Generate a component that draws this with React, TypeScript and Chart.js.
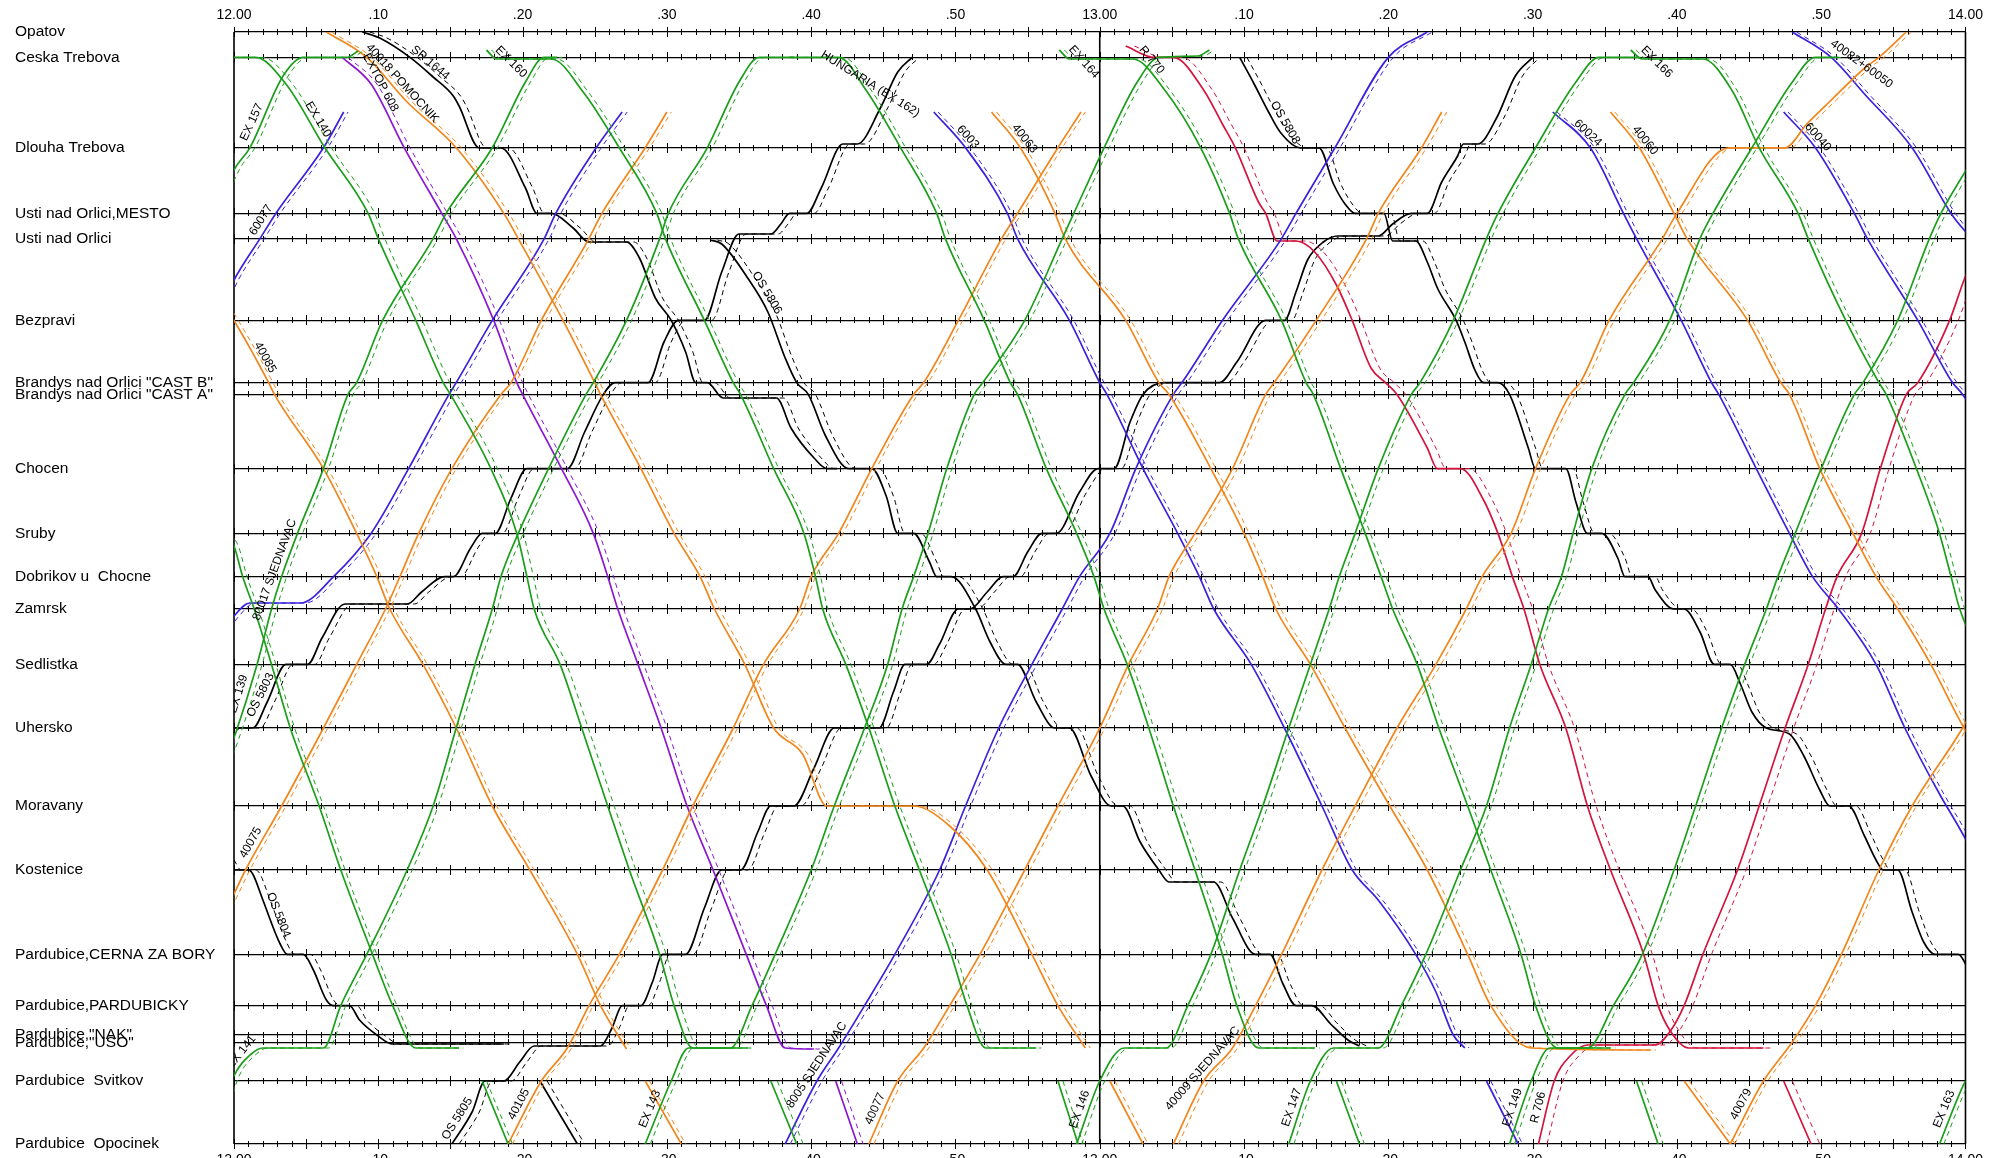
import React, { useEffect, useRef } from "react";
import { Chart, registerables } from "chart.js";

Chart.register(...registerables);

type Pt = [number, string | number] | null;

// ---------- stations (km from Opatov) ----------
const stationCodes = ["OP","CT","DT","UM","UO","BZ","BB","BA","CH","SR","DO","ZA","SE","UH","MO","KO","CZ","PA","NA","US","SV","OO"];
const stationNames = [
  "Opatov","Ceska Trebova","Dlouha Trebova","Usti nad Orlici,MESTO","Usti nad Orlici","Bezpravi",
  'Brandys nad Orlici "CAST B"','Brandys nad Orlici "CAST A"',"Chocen","Sruby","Dobrikov u  Chocne","Zamrsk",
  "Sedlistka","Uhersko","Moravany","Kostenice","Pardubice,CERNA ZA BORY","Pardubice,PARDUBICKY",
  'Pardubice,"NAK"','Pardubice,"USO"',"Pardubice  Svitkov","Pardubice  Opocinek"
];
const stationKm = [0,1.27,5.79,9.07,10.33,14.42,17.53,18.12,21.83,25.07,27.23,28.85,31.62,34.8,38.7,41.9,46.12,48.68,50.15,50.52,52.45,55.6];

// ---------- time axis (minutes after 12.00) ----------
const timeTicks = [0,10,20,30,40,50,60,70,80,90,100,110,120];
const timeTickLabels = ["12.00",".10",".20",".30",".40",".50","13.00",".10",".20",".30",".40",".50","14.00"];

const GREEN = "#1c9e1c";
const ORANGE = "#f0861c";
const BLUE = "#3b22dc";
const PURPLE = "#8a18d0";
const RED = "#d3143e";
const BLACK = "#000000";

// ---------- trains: [minute, station code | km] ----------
const EX157: Pt[] = [[-1.5,9.6],[0,6.9],[1.1,"DT"],[3.4,2.2],[4.8,"CT"],[7.8,"CT"],[8.6,0.95]];
const EX140: Pt[] = [[-0.5,"CT"],[1.5,"CT"],[3.6,2.6],[6.3,"DT"],[9.3,"UM"],[10,"UO"],[12.6,"BZ"],[14.5,"BB"],[15,"BA"],[17.8,"CH"],[19.6,"SR"],[20.3,"DO"],[20.8,"ZA"],[22.6,"SE"],[24.1,"UH"],[25.9,"MO"],[27.4,"KO"],[29.5,"CZ"],[30.5,"PA"],[31.8,50.8],[35.6,50.8],null,[37.2,"SV"],[39,"OO"]];
const EX160: Pt[] = [[17.5,0.9],[18.2,1.35],[22,1.35],[24.2,3.0],[26.7,"DT"],[29.3,"UM"],[29.9,"UO"],[32.6,"BZ"],[34.6,"BB"],[35.1,"BA"],[37.4,"CH"],[39.5,"SR"],[40.3,"DO"],[40.8,"ZA"],[42.4,"SE"],[44,"UH"],[45.8,"MO"],[47.5,"KO"],[49.7,"CZ"],[50.8,"PA"],[52.1,50.8],[55.6,50.8],null,[57.1,"SV"],[58.5,"OO"]];
const HUNG: Pt[] = [[38.5,"CT"],[41.9,"CT"],[43.8,2.9],[46.2,"DT"],[48.7,"UM"],[49.3,"UO"],[52,"BZ"],[53.8,"BB"],[54.3,"BA"],[56.3,"CH"],[58.4,"SR"],[59.6,"DO"],[60.3,"ZA"],[61.9,"SE"],[63.4,"UH"],[65.1,"MO"],[66.6,"KO"],[68.5,"CZ"],[69.5,"PA"],[71,50.8],[74.9,50.8],null,[76.4,"SV"],[78,"OO"]];
const EX164: Pt[] = [[57.2,0.9],[57.9,1.35],[62.3,1.35],[64.5,2.9],[67,"DT"],[69,"UM"],[69.6,"UO"],[72.6,"BZ"],[74.3,"BB"],[74.8,"BA"],[76.7,"CH"],[78.4,"SR"],[79.5,"DO"],[80.3,"ZA"],[82,"SE"],[83.5,"UH"],[85.5,"MO"],[87.1,"KO"],[89.2,"CZ"],[90.2,"PA"],[91.7,50.8],[95.4,50.8],null,[97.2,"SV"],[98.7,"OO"]];
const EX166: Pt[] = [[96.8,0.9],[97.6,1.35],[101.8,1.35],[103.8,2.9],[105.7,"DT"],[108.4,"UM"],[109.1,"UO"],[111.7,"BZ"],[114,"BB"],[114.5,"BA"],[116.6,"CH"],[118.2,"SR"],[119,"DO"],[119.6,"ZA"],[121.3,"SE"]];
const EXD2: Pt[] = [[-0.6,"SR"],[0,25.7],[0.6,"DO"],[1.4,"ZA"],[2.6,"SE"],[3.9,"UH"],[5.9,"MO"],[7.4,"KO"],[9.6,"CZ"],[11,"PA"],[12.6,50.8],[15.6,50.8],null,[17.2,"SV"],[19,"OO"]];
const EX139: Pt[] = [[-1.8,"MO"],[0,35.3],[1.6,"SE"],[2.6,"ZA"],[3.3,"DO"],[4.4,"SR"],[6.2,"CH"],[7.9,"BA"],[8.5,"BB"],[10.3,"BZ"],[13.8,"UO"],[14.7,"UM"],[17.9,"DT"],[20.2,2.5],[21.5,"CT"],[22.4,"CT"]];
const EX141: Pt[] = [[-0.6,53.5],[0,52.2],[1.2,51.1],[2,50.8],[6.2,50.8],[7.4,"PA"],[9.2,"CZ"],[12,"KO"],[13.8,"MO"],[15.4,"UH"],[16.7,"SE"],[17.9,"ZA"],[18.5,"DO"],[19.7,"SR"],[21.8,"CH"],[24.4,"BA"],[24.9,"BB"],[27.2,"BZ"],[29.5,"UO"],[30.1,"UM"],[32.8,"DT"],[35,2.5],[36.4,"CT"],[38.8,"CT"]];
const EX143: Pt[] = [[28.5,"OO"],[30.3,"SV"],[31.5,50.8],[34.4,50.8],[35.9,"PA"],[37.5,"CZ"],[40,"KO"],[41.6,"MO"],[43.7,"UH"],[45.3,"SE"],[46.3,"ZA"],[47.1,"DO"],[48.1,"SR"],[49.4,"CH"],[51.3,"BA"],[51.9,"BB"],[54.8,"BZ"],[57.4,"UO"],[58.2,"UM"],[60.3,"DT"],[62.6,2.5],[64.1,"CT"],[66.8,1.2],[67.6,0.9]];
const EX146: Pt[] = [[58.4,"OO"],[60,"SV"],[61.7,50.8],[64.6,50.8],[66.1,"PA"],[67.7,"CZ"],[69.7,"KO"],[71.3,"MO"],[73.1,"UH"],[74.6,"SE"],[75.9,"ZA"],[76.6,"DO"],[77.7,"SR"],[79.3,"CH"],[81.6,"BA"],[82.2,"BB"],[84.5,"BZ"],[86.8,"UO"],[87.6,"UM"],[90.2,"DT"],[93,2.5],[94.6,"CT"],[97.4,"CT"]];
const EX147: Pt[] = [[73.1,"OO"],[74.6,"SV"],[76.2,50.8],[79.3,50.8],[80.9,"PA"],[82.6,"CZ"],[85,"KO"],[86.8,"MO"],[88.4,"UH"],[89.9,"SE"],[91.1,"ZA"],[92,"DO"],[92.8,"SR"],[94.1,"CH"],[96.4,"BA"],[97,"BB"],[99.5,"BZ"],[101.6,"UO"],[102.5,"UM"],[105.2,"DT"],[108,2.5],[109.6,"CT"],[111.2,"CT"]];
const EX149: Pt[] = [[88.4,"OO"],[89.9,"SV"],[91.2,50.8],[93.8,50.8],[95.6,"PA"],[97.6,"CZ"],[99.8,"KO"],[101.3,"MO"],[103.1,"UH"],[104.7,"SE"],[106.2,"ZA"],[107,"DO"],[108.2,"SR"],[110,"CH"],[112.3,"BA"],[112.9,"BB"],[115.3,"BZ"],[117.5,"UO"],[118.3,"UM"],[121,"DT"]];
const EX163: Pt[] = [[118.2,"OO"],[120,"SV"],[121,51.4]];

const O40018: Pt[] = [[6.4,"OP"],[9.2,"CT"],[12,3.5],[15.4,"DT"],[18.7,"UM"],[19.7,"UO"],[22.8,"BZ"],[25,"BB"],[25.4,"BA"],[28.2,"CH"],[30.5,"SR"],[32.3,"DO"],[33.3,"ZA"],[35.4,"SE"],[37.4,"UH"],[39.4,36.1],[41.1,"MO"],[47.1,"MO"],[49.6,39.7],[52.2,"KO"],[55.3,"CZ"],[57.1,"PA"],[59,50.8],null,[60.7,"SV"],[63,"OO"]];
const O40085: Pt[] = [[-1,13.3],[0,"BZ"],[2.4,"BB"],[2.8,"BA"],[6.2,"CH"],[8.5,"SR"],[9.9,"DO"],[10.8,"ZA"],[13.1,"SE"],[15.4,"UH"],[17.9,"MO"],[20.5,"KO"],[23.8,"CZ"],[25.4,"PA"],[27.2,50.85],null,[28.5,"SV"],[31,"OO"]];
const O40075: Pt[] = [[-1,44.6],[0,43.1],[0.8,"KO"],[3.3,"MO"],[6.2,"UH"],[8.5,"SE"],[10.5,"ZA"],[11.5,"DO"],[12.8,"SR"],[15.1,"CH"],[18.5,"BA"],[19.2,"BB"],[21.3,"BZ"],[24.6,"UO"],[25.5,"UM"],[28.5,"DT"],[30,4.0]];
const O40105: Pt[] = [[19,"OO"],[21.3,"SV"],[23.1,50.8],[24.6,"PA"],[26.7,"CZ"],[29.7,"KO"],[31.8,"MO"],[34.6,"UH"],[36.7,"SE"],[39.2,"ZA"],[40,"DO"],[41.9,"SR"],[44.2,"CH"],[47.1,"BA"],[47.8,"BB"],[50.2,"BZ"],[53.2,"UO"],[54.3,"UM"],[57.1,"DT"],[58.7,4.0]];
const O40077: Pt[] = [[44,"OO"],[46,"SV"],[47.8,50.8],[49.6,"PA"],[51.7,"CZ"],[54.8,"KO"],[57.1,"MO"],[60,"UH"],[62,"SE"],[64,"ZA"],[64.8,"DO"],[66.6,"SR"],[69.2,"CH"],[71.5,"BA"],[72.1,"BB"],[75,"BZ"],[78.5,"UO"],[79.3,"UM"],[82.3,"DT"],[83.7,4.0]];
const O40063: Pt[] = [[52.5,4.0],[54.5,"DT"],[56.9,"UM"],[57.6,"UO"],[61.8,"BZ"],[64.1,"BB"],[64.8,"BA"],[67.7,"CH"],[70,"SR"],[71.3,"DO"],[72.2,"ZA"],[74.6,"SE"],[77,"UH"],[80.1,"MO"],[82.7,"KO"],[85.5,"CZ"],[87.1,"PA"],[89.9,50.8],[98.2,50.9],null,[100.5,"SV"],[103.7,"OO"]];
const O40009: Pt[] = [[65.1,"OO"],[67.2,"SV"],[69.2,50.8],[70.8,"PA"],[72.6,"CZ"],[75.4,"KO"],[77.7,"MO"],[80.6,"UH"],[83.3,"SE"],[85.4,"ZA"],[86.5,"DO"],[88.5,"SR"],[90.2,"CH"],[92.6,"BA"],[93.3,"BB"],[95.3,"BZ"],[99,"UO"],[100,"UM"],[103.6,"DT"],[107.5,"DT"],[109,4.6],[110.7,3.4],[113.1,1.75],[114,"CT"],[115.9,"OP"]];
const O40079: Pt[] = [[103.7,"OO"],[106,"SV"],[108,50.5],[109.6,"PA"],[111.4,"CZ"],[114,"KO"],[116.3,"MO"],[119.8,"UH"],[121,33.2]];
const O40060: Pt[] = [[95.4,4.0],[97.4,"DT"],[99.8,"UM"],[100.7,"UO"],[104.9,"BZ"],[107.2,"BB"],[107.8,"BA"],[109.9,"CH"],[112.2,"SR"],[113.8,"DO"],[115.3,"ZA"],[117.6,"SE"],[119.9,"UH"],[121,36]];

const B60077: Pt[] = [[-1,14],[0,12.4],[1.8,"UO"],[2.9,"UM"],[6.2,"DT"],[7.6,4.0]];
const B60017: Pt[] = [[-1,30.2],[0,29.2],[1.1,28.55],[4.6,28.55],[6.9,"DO"],[9.5,"SR"],[12.1,"CH"],[14.9,"BA"],[15.4,"BB"],[17.9,"BZ"],[21.5,"UO"],[22.3,"UM"],[25.1,"DT"],[26.9,4.0]];
const B6003: Pt[] = [[48.5,4.0],[50.7,"DT"],[53.6,"UM"],[54.3,"UO"],[57.9,"BZ"],[60,"BB"],[60.5,"BA"],[63,"CH"],[65.4,"SR"],[66.9,"DO"],[67.9,"ZA"],[70.5,"SE"],[72.8,"UH"],[75.4,"MO"],[77.5,"KO"],[79.3,43.4],[81.9,"CZ"],[83.3,48],[84.5,"NA"],[85.3,50.8],null,[86.8,"SV"],[89,"OO"]];
const B8005: Pt[] = [[38.2,"OO"],[40.4,"SV"],[41.9,50.8],[43.7,"PA"],[45.8,"CZ"],[48.9,"KO"],[50.7,"MO"],[53,"UH"],[55.3,"SE"],[57.4,"ZA"],[58.6,"DO"],[60.7,"SR"],[62.5,"CH"],[65.1,"BA"],[65.7,"BB"],[68.5,"BZ"],[72.6,"UO"],[73.6,"UM"],[76.3,"DT"],[80,"CT"],[82.7,"OP"]];
const B60024: Pt[] = [[91.4,4.0],[94,"DT"],[96.3,"UM"],[97.2,"UO"],[100.3,"BZ"],[102.4,"BB"],[102.9,"BA"],[105.5,"CH"],[107.8,"SR"],[109.4,"DO"],[111.2,"ZA"],[113.8,"SE"],[115.8,"UH"],[118.2,38.1],[119.5,39.7],[120.5,41]];
const B60040: Pt[] = [[107.4,4.0],[109.6,"DT"],[112.3,"UM"],[113.2,"UO"],[116.7,"BZ"],[119.1,"BB"],[119.8,"BA"],[121,19.5]];
const B60050: Pt[] = [[108,"OP"],[110.7,"CT"],[113,3.1],[116.3,"DT"],[119,"UM"],[120.4,"UO"]];
const P608: Pt[] = [[7.5,"CT"],[9.5,2.6],[11.8,"DT"],[14.4,"UM"],[15.4,"UO"],[18,"BZ"],[19.6,"BB"],[20,"BA"],[22.7,"CH"],[24.9,"SR"],[25.9,"DO"],[26.6,"ZA"],[28,"SE"],[29.6,"UH"],[31.4,"MO"],[33.2,"KO"],[35.5,"CZ"],[36.9,"PA"],[38.2,50.8],[40.2,50.85],null,[41.7,"SV"],[43.2,"OO"]];

const R770: Pt[] = [[61.8,0.7],[63.8,"CT"],[65.1,"CT"],[67.2,2.9],[68.5,4.6],[69.4,"DT"],[71,8.5],[71.5,"UM"],[72.3,10.45],[73.6,10.45],[74.9,11.0],[76.4,12.65],[77.5,"BZ"],[78.8,16.8],[79.8,"BB"],[80.6,"BA"],[82.7,20.8],[83.4,"CH"],[85,"CH"],[86.6,23.4],[87.6,"SR"],[88.6,"DO"],[89.4,"ZA"],[90.5,"SE"],[92.3,"UH"],[93.8,"MO"],[95.4,"KO"],[97.7,"CZ"],[98.7,"PA"],[99.5,49.9],[100.8,50.8],[106,50.8],null,[107.4,"SV"],[109.3,"OO"]];
const R706: Pt[] = [[90.4,"OO"],[91.5,"SV"],[92.6,51.2],[93.8,50.65],[98.5,50.65],[99.5,50.0],[100.5,"PA"],[101.8,"CZ"],[104.2,"KO"],[105.7,"MO"],[107.5,"UH"],[109.1,"SE"],[110.3,"ZA"],[111.1,"DO"],[112.8,"SR"],[114.1,"CH"],[115.9,"BA"],[116.7,"BB"],[118.9,"BZ"],[119.9,12.4],[120.5,11.4]];

const K1: Pt[] = [[8.9,"OP"],[10.1,0.3],[12.2,"CT"],[13.8,2.25],[15.2,3.2],[15.6,3.7],[17,"DT"],[18.5,"DT"],[20.2,7.8],[21,"UM"],[22,"UM"],[23.5,9.8],[24.6,10.5],[27.2,10.5],[28.1,11.3],[29.2,13.3],[30.3,"BZ"],[31.3,16.0],[32,"BB"],[32.8,"BB"],[33.9,18.3],[37.6,18.3],[38.6,19.8],[40.2,21.3],[41.1,"CH"],[41.8,"CH"]];
const OS5806: Pt[] = [[33,10.4],[33.8,10.6],[35.6,12.3],[37,14],[38.2,16.3],[39,"BB"],[39.8,"BA"],[41,20.2],[42.6,"CH"],[44.2,"CH"],[45.2,23.2],[46,"SR"],[47.1,"SR"],[48.2,26.5],[48.7,"DO"],[49.7,"DO"],[51.4,"ZA"],[52.4,30.5],[53.5,"SE"],[54.3,"SE"],[55.6,33.5],[56.9,"UH"],[57.9,"UH"],[59.4,37.2],[60.8,"MO"],[61.6,"MO"],[62.8,40.5],[64.1,"KO"],[64.8,42.5],[67.9,42.5],[69.2,44.3],[70.8,"CZ"],[71.8,"CZ"],[72.7,47.6],[73.6,"PA"],[74.7,"PA"],[76,49.6],[77.2,50.4],[78,50.7]];
const OS5803: Pt[] = [[-1.5,36.5],[0,"UH"],[1.3,"UH"],[2.3,33.5],[3.6,"SE"],[5.1,"SE"],[6.1,30.3],[7.7,28.6],[12,28.6],[13,28.0],[14.6,"DO"],[15.2,"DO"],[16.4,25.8],[17.2,"SR"],[18.1,"SR"],[19.2,23.3],[20.3,"CH"],[23.1,"CH"],[24.3,20.0],[25.6,"BA"],[26.4,"BB"],[28.7,"BB"],[29.8,15.5],[30.8,"BZ"],[32.6,"BZ"],[33.8,12.0],[35,10.1],[37.2,10.1],[37.9,9.6],[38.5,"UM"],[39.7,"UM"],[40.7,7.8],[42.2,5.6],[43.2,5.6],[44.8,3.8],[46,2.0],[47,"CT"]];
const OS5805: Pt[] = [[15.1,"OO"],[16.5,54.0],[17.4,"SV"],[18.7,"SV"],[19.8,51.5],[20.8,50.7],[25.4,50.7],[26.2,49.8],[26.9,"PA"],[28.2,"PA"],[29,47.5],[29.7,"CZ"],[31.3,"CZ"],[32.6,43.8],[33.8,"KO"],[35.1,"KO"],[36.3,40.0],[37.2,"MO"],[38.8,"MO"],[40.2,36.8],[41.6,"UH"],[44.7,"UH"],[45.7,33.0],[46.5,"SE"],[48,"SE"],[48.9,30.6],[50.2,"ZA"],[51,"ZA"],[52.2,28.0],[53.3,"DO"],[54,"DO"],[55,26.0],[56,"SR"],[57,"SR"],[58.6,23.0],[59.9,"CH"],[61,"CH"],[62.1,19.5],[63,"BA"],[64.5,"BB"],[68.3,"BB"],[69.5,16.5],[71.5,"BZ"],[72.8,"BZ"],[73.6,13.0],[74.4,11.4],[75.5,10.5],[76.5,10.2],[79.3,10.2],[80.3,9.6],[81.6,"UM"],[82.7,"UM"],[83.7,7.5],[84.8,6.2],[85.2,5.6],[86.2,5.6],[87.5,4.3],[88.8,2.2],[90,"CT"]];
const OS5808: Pt[] = [[69.7,"CT"],[70.7,2.6],[71.7,4.0],[72.5,5.0],[73.9,"DT"],[75.2,"DT"],[76.2,7.6],[77,8.6],[77.7,"UM"],[79.7,"UM"],[80.3,10.45],[81.9,10.45],[82.7,11.5],[83.4,12.8],[84.7,"BZ"],[85.3,15.5],[86,16.9],[86.6,"BB"],[87.6,"BB"],[88.4,"BA"],[89.7,20.8],[90.2,"CH"],[92.3,"CH"],[93,23.5],[93.8,"SR"],[94.8,"SR"],[95.9,26.3],[96.4,"DO"],[98,"DO"],[98.5,27.9],[99.8,"ZA"],[100.5,"ZA"],[101.6,30],[102.6,"SE"],[103.7,"SE"],[104.4,32.6],[105.2,34],[106.2,"UH"],[107.8,35.1],[108.8,36.2],[109.9,37.9],[110.6,"MO"],[111.9,"MO"],[113,40.2],[113.8,41.4],[114.3,"KO"],[115.3,"KO"],[116.3,44],[117.1,45.5],[117.9,"CZ"],[119.5,"CZ"],[120.3,47]];
const OS5804: Pt[] = [[-0.5,41.4],[0,"KO"],[1,"KO"],[1.3,42.1],[2,43.4],[3.2,45.6],[3.7,"CZ"],[4.8,"CZ"],[5.5,46.9],[6.4,48.4],[6.9,"PA"],[8,"PA"],[8.7,49.4],[9.9,"NA"],[11,50.6],[18.7,50.6],null,[21.2,"SV"],[23.8,"OO"]];

// train table: points, colour, shift of the dashed (planned) path in minutes
const trainTable: { pts: Pt[]; color: string; plan: number }[] = [
  { pts: EX157, color: GREEN, plan: 0.35 }, { pts: EX140, color: GREEN, plan: 0.45 },
  { pts: EX160, color: GREEN, plan: 0.35 }, { pts: HUNG, color: GREEN, plan: 0.35 },
  { pts: EX164, color: GREEN, plan: 0.35 }, { pts: EX166, color: GREEN, plan: 0.35 },
  { pts: EXD2, color: GREEN, plan: 0.3 }, { pts: EX139, color: GREEN, plan: 0.35 },
  { pts: EX141, color: GREEN, plan: 0.35 }, { pts: EX143, color: GREEN, plan: 0.35 },
  { pts: EX146, color: GREEN, plan: 0.35 }, { pts: EX147, color: GREEN, plan: 0.35 },
  { pts: EX149, color: GREEN, plan: 0.35 }, { pts: EX163, color: GREEN, plan: 0.3 },
  { pts: O40018, color: ORANGE, plan: 0.35 }, { pts: O40085, color: ORANGE, plan: 0.3 },
  { pts: O40075, color: ORANGE, plan: 0.3 }, { pts: O40105, color: ORANGE, plan: 0.3 },
  { pts: O40077, color: ORANGE, plan: 0.35 }, { pts: O40063, color: ORANGE, plan: 0.35 },
  { pts: O40009, color: ORANGE, plan: 0.35 }, { pts: O40079, color: ORANGE, plan: 0.3 },
  { pts: O40060, color: ORANGE, plan: 0.3 },
  { pts: B60077, color: BLUE, plan: 0.3 }, { pts: B60017, color: BLUE, plan: 0.35 },
  { pts: B6003, color: BLUE, plan: 0.3 }, { pts: B8005, color: BLUE, plan: 0.35 },
  { pts: B60024, color: BLUE, plan: 0.3 }, { pts: B60040, color: BLUE, plan: 0.3 },
  { pts: B60050, color: BLUE, plan: 0.3 }, { pts: P608, color: PURPLE, plan: 0.4 },
  { pts: R770, color: RED, plan: 0.6 }, { pts: R706, color: RED, plan: 0.6 },
  { pts: K1, color: BLACK, plan: 0.5 }, { pts: OS5806, color: BLACK, plan: 0.5 },
  { pts: OS5803, color: BLACK, plan: 0.5 }, { pts: OS5805, color: BLACK, plan: 0.5 },
  { pts: OS5808, color: BLACK, plan: 0.5 }, { pts: OS5804, color: BLACK, plan: 0.5 },
];

// labels: [text, train (or null), minute, km if free, angle if free]
const trainLabels: [string, Pt[] | null, number, number?, number?][] = [
  ["EX 157", EX157, 1.8], ["EX 140", EX140, 5.3], ["SP 1644", K1, 13.2],
  ["40018 POMOCNIK", O40018, 11.2], ["EXTOP 608", P608, 9.6], ["60077", B60077, 2.4],
  ["40085", O40085, 1.6], ["80017 SJEDNAVAC", EX139, 3.4], ["EX 139", EX139, 0.9],
  ["OS 5803", OS5803, 2.4], ["40075", O40075, 1.7], ["OS 5804", OS5804, 2.5],
  ["EX 141", EX141, 1.0], ["OS 5805", OS5805, 16.0], ["40105", O40105, 20.3],
  ["EX 143", EX143, 29.4], ["8005 SJEDNAVAC", B8005, 40.9], ["40077", O40077, 45],
  ["EX 146", EX146, 59.2], ["40009 SJEDNAVAC", O40009, 67.6], ["EX 147", EX147, 73.9],
  ["EX 149", EX149, 89.2], ["R 706", R706, 91.0], ["40079", O40079, 105],
  ["EX 163", EX163, 119.1], ["OS 5806", OS5806, 36.4], ["6003", B6003, 50.4],
  ["40063", O40063, 54.3], ["60024", B60024, 93.4], ["40060", O40060, 97.3],
  ["60040", B60040, 109.3], ["OS 5808", OS5808, 72.3],
  ["EX 160", null, 19.2, 1.5, 45], ["HUNGARIA (EX 162)", null, 44.1, 2.6, 32],
  ["EX 164", null, 58.9, 1.5, 48], ["R 770", null, 63.6, 1.4, 50],
  ["EX 166", null, 98.6, 1.5, 45], ["40082+60050", null, 112.8, 1.6, 36],
];

const FONT = '"Liberation Sans", Arial, Helvetica, sans-serif';

function kmOf(v: string | number): number {
  return typeof v === "number" ? v : stationKm[stationCodes.indexOf(v)];
}
function toPieces(pts: Pt[]): { x: number; y: number }[][] {
  const out: { x: number; y: number }[][] = [[]];
  for (const p of pts) {
    if (!p) { out.push([]); continue; }
    out[out.length - 1].push({ x: p[0], y: kmOf(p[1]) });
  }
  return out.filter((a) => a.length > 1);
}

export default function App() {
  const ref = useRef<HTMLCanvasElement>(null);
  useEffect(() => {
    const canvas = ref.current;
    if (!canvas) return;
    const common = {
      pointRadius: 0, pointHoverRadius: 0, fill: false, spanGaps: false,
      cubicInterpolationMode: "monotone", parsing: false,
    };
    const datasets: any[] = [];
    for (const tr of trainTable) {
      for (const piece of toPieces(tr.pts)) {
        datasets.push({ ...common, data: piece.map((p) => ({ x: p.x + tr.plan, y: p.y })), borderColor: tr.color, borderWidth: 1, borderDash: [5, 4] });
        datasets.push({ ...common, data: piece, borderColor: tr.color, borderWidth: 1.7 });
      }
    }

    const stationTicks = {
      id: "stationTicks",
      beforeDatasetsDraw(chart: any) {
        const { ctx, chartArea: a } = chart;
        const xs = chart.scales.x, ys = chart.scales.y;
        ctx.save();
        ctx.strokeStyle = "#000";
        ctx.lineWidth = 1;
        ctx.beginPath();
        for (const km of stationKm) {
          const y = Math.round(ys.getPixelForValue(km));
          for (let m = 0; m <= 120; m++) {
            const x = Math.round(xs.getPixelForValue(m)) + 0.5;
            const h = m % 5 === 0 ? 5 : 3;
            ctx.moveTo(x, y - h);
            ctx.lineTo(x, y + h);
          }
        }
        ctx.stroke();
        ctx.lineWidth = 1.6;
        ctx.beginPath();
        for (const v of [0, 60, 120]) {
          const x = xs.getPixelForValue(v);
          ctx.moveTo(x, a.top);
          ctx.lineTo(x, a.bottom);
        }
        ctx.stroke();
        ctx.restore();
      },
    };

    const labelPlugin = {
      id: "trainLabels",
      afterDatasetsDraw(chart: any) {
        const { ctx, chartArea: a } = chart;
        const xs = chart.scales.x, ys = chart.scales.y;
        ctx.save();
        ctx.beginPath();
        ctx.rect(a.left, a.top - 2, a.right - a.left, a.bottom - a.top + 4);
        ctx.clip();
        ctx.font = `12px ${FONT}`;
        ctx.fillStyle = "#000";
        ctx.textAlign = "center";
        for (const [text, pts, t, kmFix, angFix] of trainLabels) {
          let px = 0, py = 0, ang = 0, dy = 0;
          if (pts) {
            const flat = pts.filter((p) => p) as [number, string | number][];
            let i = 0;
            while (i < flat.length - 2 && flat[i + 1][0] < t) i++;
            const p0 = flat[i], p1 = flat[i + 1];
            const x0 = xs.getPixelForValue(p0[0]), y0 = ys.getPixelForValue(kmOf(p0[1]));
            const x1 = xs.getPixelForValue(p1[0]), y1 = ys.getPixelForValue(kmOf(p1[1]));
            const f = (t - p0[0]) / (p1[0] - p0[0]);
            px = x0 + (x1 - x0) * f;
            py = y0 + (y1 - y0) * f;
            ang = Math.atan2(y1 - y0, x1 - x0);
            ctx.textBaseline = "bottom";
            dy = -3;
          } else {
            px = xs.getPixelForValue(t);
            py = ys.getPixelForValue(kmFix as number);
            ang = ((angFix as number) * Math.PI) / 180;
            ctx.textBaseline = "middle";
          }
          ctx.save();
          ctx.translate(px, py);
          ctx.rotate(ang);
          ctx.fillText(text, 0, dy);
          ctx.restore();
        }
        ctx.restore();
      },
    };

    const xTicks = {
      callback: (v: number) => timeTickLabels[Math.round(v / 10)],
      autoSkip: false, maxRotation: 0, minRotation: 0, padding: 8, color: "#000",
      font: { size: 14, family: FONT },
    };

    const chart = new Chart(canvas, {
      type: "line",
      data: { datasets },
      options: {
        animation: false,
        responsive: false,
        devicePixelRatio: 1,
        events: [],
        layout: { padding: { left: 15, right: 24, top: 0, bottom: 0 } },
        plugins: { legend: { display: false }, tooltip: { enabled: false } },
        scales: {
          x: {
            type: "linear", position: "bottom", min: 0, max: 120,
            afterBuildTicks: (s: any) => { s.ticks = timeTicks.map((v) => ({ value: v })); },
            afterFit: (s: any) => { s.height = 14; },
            ticks: xTicks,
            grid: { display: false, drawTicks: false },
            border: { display: false },
          },
          xTop: {
            type: "linear", position: "top", min: 0, max: 120,
            afterBuildTicks: (s: any) => { s.ticks = timeTicks.map((v) => ({ value: v })); },
            afterFit: (s: any) => { s.height = 32; },
            ticks: xTicks,
            grid: { display: false, drawTicks: false },
            border: { display: false },
          },
          y: {
            type: "linear", reverse: true, min: 0, max: 55.6,
            afterBuildTicks: (s: any) => { s.ticks = stationKm.map((v) => ({ value: v })); },
            afterFit: (s: any) => { s.width = 219; },
            ticks: {
              callback: (_v: number, i: number) => stationNames[i],
              autoSkip: false, crossAlign: "far", color: "#000", padding: 0,
              font: { size: 15.5, family: FONT },
            },
            grid: { color: "#000", lineWidth: 1.3, drawTicks: false },
            border: { display: false },
          },
        },
      } as any,
      plugins: [stationTicks, labelPlugin],
    });
    return () => chart.destroy();
  }, []);

  return (
    <div style={{ position: "fixed", left: 0, top: 0, width: 1991, height: 1158, background: "#fff", overflow: "hidden" }}>
      <canvas ref={ref} width={1991} height={1158} style={{ display: "block", width: 1991, height: 1158 }} />
    </div>
  );
}
